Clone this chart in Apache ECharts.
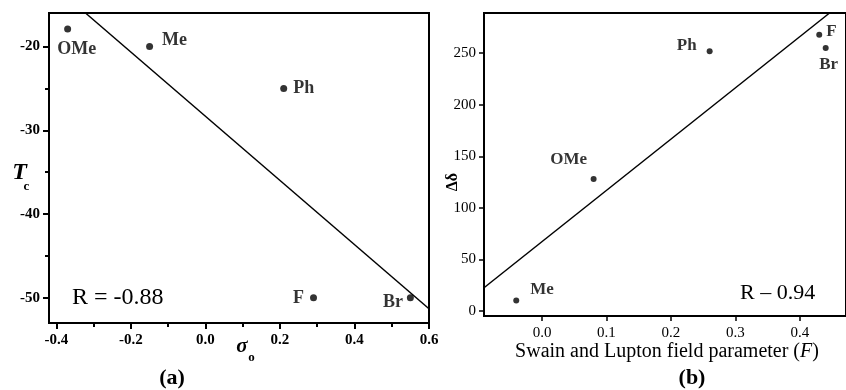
<!DOCTYPE html>
<html>
<head>
<meta charset="utf-8">
<script src="https://cdn.jsdelivr.net/npm/echarts@6/dist/echarts.min.js"></script>
<style>html,body{margin:0;padding:0;background:#fff}#c{width:846px;height:390px}</style>
</head>
<body>
<div id="c"></div>
<script>
// ---- Panel (a) data ----
const subsA = ['OMe', 'Me', 'Ph', 'F', 'Br'];
const sigmaA = [-0.37, -0.15, 0.21, 0.29, 0.55];
const tcA = [-17.9, -20, -25, -50, -50];
const fitAx = [-0.322, 0.6];
const fitAy = [-16, -51.3];
const xTicksA = [-0.4, -0.2, 0.0, 0.2, 0.4, 0.6];
const xMinorA = [-0.3, -0.1, 0.1, 0.3, 0.5];
const yTicksA = [-50, -40, -30, -20];
const yMinorA = [-45, -35, -25];

// ---- Panel (b) data ----
const subsB = ['Me', 'OMe', 'Ph', 'F', 'Br'];
const fieldB = [-0.04, 0.08, 0.26, 0.43, 0.44];
const ddB = [10, 128, 252, 268, 255];
const fitBx = [-0.09, 0.446];
const fitBy = [22.4, 289];
const xTicksB = [0.0, 0.1, 0.2, 0.3, 0.4];
const yTicksB = [0, 50, 100, 150, 200, 250];

// label placement (style only)
const labA = {
  OMe: {position: 'bottom', offset: [9, 3]},
  Me: {position: 'right', distance: 9, offset: [0, -6]},
  Ph: {position: 'right', distance: 6, offset: [0, 0]},
  F: {position: 'left', distance: 6, offset: [0, 0]},
  Br: {position: 'left', distance: 4, offset: [0, 4]}
};
const labB = {
  Me: {position: 'right', distance: 11, offset: [0, -11]},
  OMe: {position: 'top', offset: [-25, -3]},
  Ph: {position: 'left', distance: 10, offset: [0, -6]},
  F: {position: 'right', distance: 4, offset: [0, -3]},
  Br: {position: 'bottom', offset: [3, 0]}
};

const SERIF = '"Liberation Serif", "Times New Roman", serif';
const black = '#000';

function pts(names, xs, ys, lab, weight, size) {
  return names.map((n, i) => ({
    value: [xs[i], ys[i]],
    name: n,
    label: Object.assign({show: true, formatter: n, color: black, fontFamily: SERIF,
      fontSize: size, fontWeight: weight}, lab[n])
  }));
}
function line(xs, ys) { return xs.map((x, i) => [x, ys[i]]); }

const axisLineStyle = {show: true, onZero: false, lineStyle: {color: black, width: 2}};
const hiddenLine = {show: false, onZero: false};

const chart = echarts.init(document.getElementById('c'), null, {renderer: 'canvas'});
chart.setOption({
  animation: false,
  backgroundColor: '#fff',
  grid: [
    {left: 49, right: 417, top: 13, bottom: 67, show: true, borderColor: black, borderWidth: 2, backgroundColor: 'transparent'},
    {left: 484, right: -3, top: 13, bottom: 74, show: true, borderColor: black, borderWidth: 2, backgroundColor: 'transparent'}
  ],
  xAxis: [
    {gridIndex: 0, type: 'value', position: 'bottom', min: -0.42, max: 0.6,
      axisLine: axisLineStyle, splitLine: {show: false},
      axisTick: {show: true, length: 6, lineStyle: {color: black, width: 2}, customValues: xTicksA},
      axisLabel: {customValues: xTicksA, formatter: v => v.toFixed(1), color: black, fontFamily: SERIF, fontSize: 15, fontWeight: 'bold', margin: 10}},
    {gridIndex: 0, type: 'value', position: 'bottom', min: -0.42, max: 0.6,
      axisLine: hiddenLine, splitLine: {show: false},
      axisTick: {show: true, length: 4, lineStyle: {color: black, width: 2}, customValues: xMinorA},
      axisLabel: {show: false}},
    {gridIndex: 1, type: 'value', position: 'bottom', min: -0.09, max: 0.4715,
      axisLine: axisLineStyle, splitLine: {show: false},
      axisTick: {show: true, length: 5, lineStyle: {color: black, width: 1.5}, customValues: xTicksB},
      axisLabel: {customValues: xTicksB, formatter: v => v.toFixed(1), color: black, fontFamily: SERIF, fontSize: 15, margin: 10}}
  ],
  yAxis: [
    {gridIndex: 0, type: 'value', position: 'left', min: -53, max: -16,
      axisLine: axisLineStyle, splitLine: {show: false},
      axisTick: {show: true, length: 6, lineStyle: {color: black, width: 2}, customValues: yTicksA},
      axisLabel: {customValues: yTicksA, color: black, fontFamily: SERIF, fontSize: 15, fontWeight: 'bold', margin: 9}},
    {gridIndex: 0, type: 'value', position: 'left', min: -53, max: -16,
      axisLine: hiddenLine, splitLine: {show: false},
      axisTick: {show: true, length: 4, lineStyle: {color: black, width: 2}, customValues: yMinorA},
      axisLabel: {show: false}},
    {gridIndex: 1, type: 'value', position: 'left', min: -5, max: 289,
      axisLine: axisLineStyle, splitLine: {show: false},
      axisTick: {show: true, length: 5, lineStyle: {color: black, width: 1.5}, customValues: yTicksB},
      axisLabel: {customValues: yTicksB, color: black, fontFamily: SERIF, fontSize: 15, margin: 8}}
  ],
  series: [
    {type: 'line', xAxisIndex: 0, yAxisIndex: 0, data: line(fitAx, fitAy), symbol: 'none',
      lineStyle: {color: black, width: 1.5}, clip: true, silent: true},
    {type: 'scatter', xAxisIndex: 0, yAxisIndex: 0, data: pts(subsA, sigmaA, tcA, labA, 'bold', 18),
      symbolSize: 7, itemStyle: {color: black}},
    {type: 'line', xAxisIndex: 2, yAxisIndex: 2, data: line(fitBx, fitBy), symbol: 'none',
      lineStyle: {color: black, width: 1.5}, clip: true, silent: true},
    {type: 'scatter', xAxisIndex: 2, yAxisIndex: 2, data: pts(subsB, fieldB, ddB, labB, 'bold', 17),
      symbolSize: 6, itemStyle: {color: black}}
  ],
  graphic: [
    {type: 'text', x: 72, y: 298, style: {text: 'R = -0.88', font: '24px ' + SERIF, fill: black, textAlign: 'left', textVerticalAlign: 'middle'}},
    {type: 'text', x: 740, y: 293, style: {text: 'R – 0.94', font: '22px ' + SERIF, fill: black, textAlign: 'left', textVerticalAlign: 'middle'}},
    {type: 'text', x: 242, y: 347, style: {text: 'σ', font: 'italic bold 21px ' + SERIF, fill: black, textAlign: 'center', textVerticalAlign: 'middle'}},
    {type: 'text', x: 251.5, y: 358, style: {text: 'o', font: 'bold 13px ' + SERIF, fill: black, textAlign: 'center', textVerticalAlign: 'middle'}},
    {type: 'text', x: 19.5, y: 173, style: {text: 'T', font: 'italic bold 24px ' + SERIF, fill: black, textAlign: 'center', textVerticalAlign: 'middle'}},
    {type: 'text', x: 26.5, y: 187, style: {text: 'c', font: 'bold 13px ' + SERIF, fill: black, textAlign: 'center', textVerticalAlign: 'middle'}},
    {type: 'text', x: 453, y: 182, rotation: Math.PI / 2, style: {text: 'Δδ', font: 'bold 16px ' + SERIF, fill: black, textAlign: 'center', textVerticalAlign: 'middle'}},
    {type: 'text', x: 667, y: 352, style: {text: '{n|Swain and Lupton field parameter (}{i|F}{n|)}', fill: black, textAlign: 'center', textVerticalAlign: 'middle',
      rich: {n: {font: '20px ' + SERIF, fill: black}, i: {font: 'italic 20px ' + SERIF, fill: black}}}},
    {type: 'text', x: 172, y: 378, style: {text: '(a)', font: 'bold 22px ' + SERIF, fill: black, textAlign: 'center', textVerticalAlign: 'middle'}},
    {type: 'text', x: 692, y: 378, style: {text: '(b)', font: 'bold 22px ' + SERIF, fill: black, textAlign: 'center', textVerticalAlign: 'middle'}}
  ]
});
</script>
</body>
</html>
